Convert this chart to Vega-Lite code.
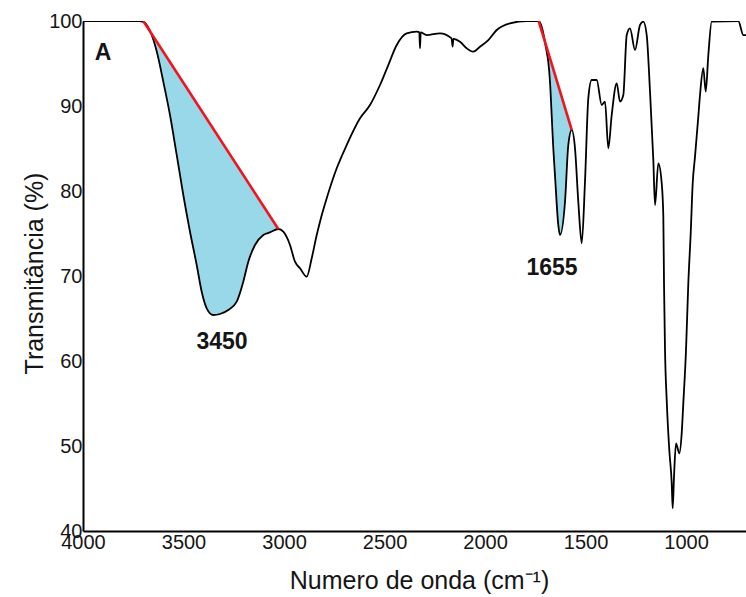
{
  "$schema": "https://vega.github.io/schema/vega-lite/v6.json",
  "width": 663,
  "height": 510,
  "autosize": "none",
  "padding": {"left": 83, "top": 21, "right": 0, "bottom": 66},
  "background": "white",
  "config": {"view": {"stroke": null}, "font": "Liberation Sans"},
  "datasets": {
    "spectrum": [
      {"w":4000,"t":100},{"w":3850,"t":100},{"w":3720,"t":100},{"w":3700,"t":99.9},{"w":3658,"t":98.35},{"w":3633,"t":96.4},{"w":3600.5,"t":92.86},{"w":3567.2,"t":88.94},{"w":3533.8,"t":84.24},{"w":3501,"t":79.53},{"w":3467.7,"t":75.21},{"w":3434.3,"t":71.29},{"w":3409.5,"t":68.15},{"w":3384.6,"t":66.2},{"w":3351.8,"t":65.41},{"w":3318.4,"t":65.53},{"w":3277.1,"t":66.0},{"w":3235.3,"t":66.98},{"w":3202.5,"t":69.33},{"w":3177.6,"t":71.68},{"w":3144.3,"t":73.65},{"w":3103,"t":74.82},{"w":3069.7,"t":75.14},{"w":3028.4,"t":75.53},{"w":3003.5,"t":75.21},{"w":2970.2,"t":73.65},{"w":2945.3,"t":71.68},{"w":2920.4,"t":70.91},{"w":2887.1,"t":69.92},{"w":2862.2,"t":72.08},{"w":2837.3,"t":74.82},{"w":2820.9,"t":76.39},{"w":2787.6,"t":79.14},{"w":2737.8,"t":82.67},{"w":2688.1,"t":85.41},{"w":2621.9,"t":88.55},{"w":2572.2,"t":90.12},{"w":2522.4,"t":92.47},{"w":2481.1,"t":94.82},{"w":2439.3,"t":97.18},{"w":2389.6,"t":98.55},{"w":2339.8,"t":98.74},{"w":2326.9,"t":98.7},{"w":2323.4,"t":96.8},{"w":2320,"t":98.65},{"w":2290.6,"t":98.35},{"w":2224.4,"t":98.55},{"w":2166.2,"t":97.96},{"w":2161.2,"t":96.98},{"w":2157.2,"t":97.9},{"w":2124.4,"t":97.56},{"w":2091.1,"t":96.79},{"w":2058.2,"t":96.39},{"w":2024.9,"t":96.98},{"w":1983.6,"t":97.76},{"w":1941.8,"t":98.94},{"w":1875.7,"t":99.73},{"w":1792.6,"t":100},{"w":1733,"t":100},{"w":1693.3,"t":96.39},{"w":1685.3,"t":95.21},{"w":1676.7,"t":92.86},{"w":1668.4,"t":88.94},{"w":1660.4,"t":85.06},{"w":1652,"t":81.88},{"w":1635.4,"t":76.0},{"w":1627.1,"t":74.82},{"w":1602,"t":78.74},{"w":1585.6,"t":85.41},{"w":1568.7,"t":87.18},{"w":1552.3,"t":85.02},{"w":1535.9,"t":78.74},{"w":1518.9,"t":73.85},{"w":1502.6,"t":81.09},{"w":1486.1,"t":90.91},{"w":1469.2,"t":93.06},{"w":1444.4,"t":93.06},{"w":1419.5,"t":90.12},{"w":1403,"t":90.51},{"w":1386.6,"t":85.02},{"w":1369.7,"t":88.94},{"w":1344.8,"t":92.67},{"w":1328.4,"t":90.51},{"w":1312,"t":91.29},{"w":1295,"t":98.35},{"w":1278.7,"t":99.14},{"w":1253.8,"t":96.59},{"w":1228.9,"t":99.53},{"w":1212.4,"t":99.92},{"w":1195.6,"t":98.35},{"w":1179.1,"t":91.68},{"w":1162.7,"t":83.65},{"w":1154.2,"t":78.35},{"w":1137.8,"t":83.26},{"w":1120.9,"t":80.91},{"w":1112.9,"t":76.98},{"w":1109.5,"t":69.14},{"w":1104.5,"t":61.29},{"w":1096.1,"t":55.41},{"w":1083.2,"t":49.53},{"w":1071.2,"t":45.65},{"w":1066.3,"t":42.67},{"w":1059.8,"t":46.39},{"w":1049.8,"t":50.32},{"w":1033.4,"t":49.14},{"w":1021.5,"t":51.49},{"w":1013.5,"t":55.02},{"w":1000,"t":61.29},{"w":988.6,"t":69.14},{"w":976.7,"t":75.02},{"w":966.7,"t":80.91},{"w":955.3,"t":84.04},{"w":938.9,"t":88.74},{"w":930.4,"t":91.29},{"w":914,"t":94.44},{"w":902,"t":91.68},{"w":889,"t":96.0},{"w":872.2,"t":99.92},{"w":739.9,"t":100},{"w":715,"t":98.35},{"w":701.7,"t":98.35}
    ],
    "band": [
      {"g":"a","w":3700,"t":100,"base":100},{"g":"a","w":3658,"t":98.35,"base":98.47},{"g":"a","w":3633,"t":96.4,"base":97.56},{"g":"a","w":3600.5,"t":92.86,"base":96.37},{"g":"a","w":3567.2,"t":88.94,"base":95.16},{"g":"a","w":3533.8,"t":84.24,"base":93.94},{"g":"a","w":3501,"t":79.53,"base":92.75},{"g":"a","w":3467.7,"t":75.21,"base":91.54},{"g":"a","w":3434.3,"t":71.29,"base":90.32},{"g":"a","w":3409.5,"t":68.15,"base":89.41},{"g":"a","w":3384.6,"t":66.2,"base":88.51},{"g":"a","w":3351.8,"t":65.41,"base":87.31},{"g":"a","w":3318.4,"t":65.53,"base":86.09},{"g":"a","w":3277.1,"t":66.0,"base":84.59},{"g":"a","w":3235.3,"t":66.98,"base":83.06},{"g":"a","w":3202.5,"t":69.33,"base":81.87},{"g":"a","w":3177.6,"t":71.68,"base":80.96},{"g":"a","w":3144.3,"t":73.65,"base":79.75},{"g":"a","w":3103,"t":74.82,"base":78.24},{"g":"a","w":3069.7,"t":75.14,"base":77.03},{"g":"a","w":3028.4,"t":75.53,"base":75.53},
      {"g":"b","w":1733,"t":100,"base":100},{"g":"b","w":1693.3,"t":96.39,"base":96.9},{"g":"b","w":1685.3,"t":95.21,"base":96.28},{"g":"b","w":1676.7,"t":92.86,"base":95.61},{"g":"b","w":1668.4,"t":88.94,"base":94.96},{"g":"b","w":1660.4,"t":85.06,"base":94.33},{"g":"b","w":1652,"t":81.88,"base":93.68},{"g":"b","w":1635.4,"t":76.0,"base":92.38},{"g":"b","w":1627.1,"t":74.82,"base":91.74},{"g":"b","w":1602,"t":78.74,"base":89.78},{"g":"b","w":1585.6,"t":85.41,"base":88.5},{"g":"b","w":1568.7,"t":87.18,"base":87.18}
    ],
    "redline": [
      {"g":"a","w":3700,"t":100},{"g":"a","w":3028.4,"t":75.53},
      {"g":"b","w":1733,"t":100},{"g":"b","w":1568.7,"t":87.18}
    ],
    "notes": [
      {"w":3900.5,"t":96.24,"label":"A"},
      {"w":3308.5,"t":62.24,"label":"3450"},
      {"w":1666.7,"t":70.94,"label":"1655"}
    ]
  },
  "layer": [
    {
      "data": {"name": "band"},
      "mark": {"type": "area", "color": "#99d8e9", "opacity": 1, "clip": true, "interpolate": "monotone"},
      "encoding": {
        "x": {
          "field": "w", "type": "quantitative",
          "scale": {"domain": [701.6, 4000], "reverse": true, "nice": false, "zero": false},
          "axis": {
            "title": "Numero de onda (cm⁻¹)",
            "values": [4000, 3500, 3000, 2500, 2000, 1500, 1000],
            "format": "d",
            "grid": false, "ticks": false,
            "labelFlush": false, "labelOverlap": false,
            "labelPadding": 1,
            "labelFont": "Liberation Sans", "labelFontSize": 20, "labelColor": "#151515",
            "domainColor": "#000000", "domainWidth": 2,
            "titleFont": "Liberation Sans", "titleFontSize": 25, "titleFontWeight": "normal", "titleColor": "#151515",
            "titleBaseline": "alphabetic", "titleY": 57, "titleX": 336
          }
        },
        "y": {
          "field": "t", "type": "quantitative",
          "scale": {"domain": [40, 100], "nice": false, "zero": false},
          "axis": {
            "title": "Transmitância (%)",
            "values": [40, 50, 60, 70, 80, 90, 100],
            "grid": false, "ticks": false,
            "labelFlush": false, "labelOverlap": false,
            "labelPadding": 1,
            "labelFont": "Liberation Sans", "labelFontSize": 20, "labelColor": "#151515",
            "domainColor": "#000000", "domainWidth": 2,
            "titleFont": "Liberation Sans", "titleFontSize": 25, "titleFontWeight": "normal", "titleColor": "#151515",
            "titleBaseline": "alphabetic", "titleX": -41, "titleY": 252
          }
        },
        "y2": {"field": "base"},
        "detail": {"field": "g"}
      }
    },
    {
      "data": {"name": "spectrum"},
      "mark": {"type": "line", "color": "#000000", "strokeWidth": 1.8, "clip": true, "interpolate": "monotone"},
      "encoding": {
        "x": {"field": "w", "type": "quantitative"},
        "y": {"field": "t", "type": "quantitative"}
      }
    },
    {
      "data": {"name": "redline"},
      "mark": {"type": "line", "color": "#f0141e", "strokeWidth": 2.6, "clip": true},
      "encoding": {
        "x": {"field": "w", "type": "quantitative"},
        "y": {"field": "t", "type": "quantitative"},
        "detail": {"field": "g"}
      }
    },
    {
      "mark": {"type": "rule", "color": "#222222", "strokeWidth": 1.5},
      "encoding": {"y": {"datum": 100}}
    },
    {
      "data": {"name": "notes"},
      "mark": {"type": "text", "font": "Liberation Sans", "fontWeight": "bold", "fontSize": 23, "color": "#151515", "align": "center", "baseline": "middle"},
      "encoding": {
        "x": {"field": "w", "type": "quantitative"},
        "y": {"field": "t", "type": "quantitative"},
        "text": {"field": "label"}
      }
    }
  ]
}
